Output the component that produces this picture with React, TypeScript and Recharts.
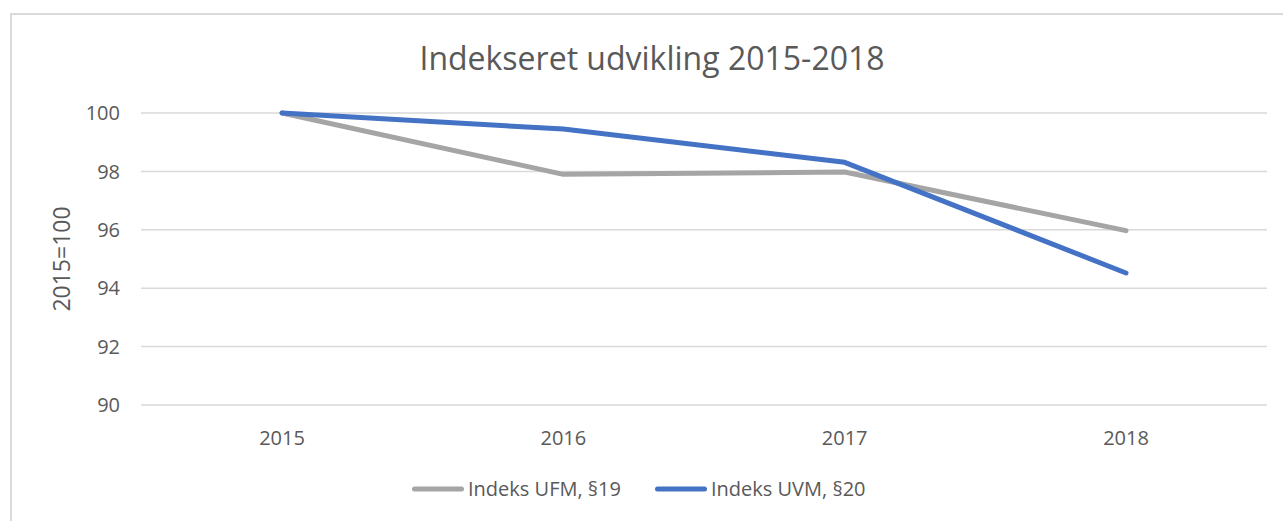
import React from "react";
import { LineChart, Line, XAxis, YAxis, CartesianGrid, Legend } from "recharts";

const years = ["2015", "2016", "2017", "2018"];
const ufm = [100, 97.9, 97.98, 95.97];
const uvm = [100, 99.45, 98.31, 94.52];
const yTicks = [90, 92, 94, 96, 98, 100];

const data = years.map((year, i) => ({ year, ufm: ufm[i], uvm: uvm[i] }));

const FONT = "'Open Sans', sans-serif";
const TEXT = "#595959";

function LegendContent({ payload }: any) {
  return (
    <div style={{ display: "flex", alignItems: "center", marginLeft: 412, fontFamily: FONT, fontSize: 20, lineHeight: "20px", color: TEXT }}>
      {(payload || []).map((p: any, i: number) => (
        <div key={p.value} style={{ display: "flex", alignItems: "center", marginRight: i === 0 ? 34 : 0 }}>
          <svg width={52} height={20} style={{ marginRight: 4 }}>
            <line x1={2.5} y1={10} x2={49.5} y2={10} stroke={p.color} strokeWidth={5} strokeLinecap="round" />
          </svg>
          <span style={{ whiteSpace: "nowrap" }}>{p.value}</span>
        </div>
      ))}
    </div>
  );
}

function YLabel({ viewBox }: any) {
  const x = viewBox.x - 11;
  const y = viewBox.y + viewBox.height / 2;
  return (
    <text x={x} y={y} transform={`rotate(-90, ${x}, ${y})`} textAnchor="middle" fill={TEXT} fontFamily={FONT} fontSize={23}>
      2015=100
    </text>
  );
}

export default function App() {
  return (
    <div style={{ position: "absolute", left: 0, top: 0, width: 1283, height: 521, overflow: "hidden", background: "#fff" }}>
      <div style={{ position: "absolute", left: 10, top: 13, width: 1300, height: 600, border: "2px solid #d9d9d9", boxSizing: "border-box" }} />
      <div style={{ position: "absolute", left: 0, top: 42, width: 1304, textAlign: "center", fontFamily: FONT, fontSize: 32, lineHeight: "32px", color: TEXT }}>
        Indekseret udvikling 2015-2018
      </div>
      <LineChart width={1283} height={521} data={data} margin={{ top: 113, right: 16, bottom: 56, left: 81 }} style={{ position: "absolute", left: 0, top: 0 }}>
        <CartesianGrid vertical={false} stroke="#d9d9d9" strokeWidth={1.5} />
        <XAxis
          dataKey="year"
          axisLine={false}
          tickLine={false}
          tickSize={0}
          tickMargin={26}
          height={60}
          padding={{ left: 141, right: 141 }}
          tick={{ fill: TEXT, fontSize: 20, fontFamily: FONT }}
        />
        <YAxis
          domain={[90, 100]}
          ticks={yTicks}
          axisLine={false}
          tickLine={false}
          tickSize={0}
          tickMargin={21}
          width={60}
          tick={{ fill: TEXT, fontSize: 20, fontFamily: FONT }}
          label={{ content: (props: any) => <YLabel viewBox={{ x: 81, y: 113, height: 292 }} /> }}
        />
        <Legend
          layout="horizontal"
          verticalAlign="middle"
          align="center"
          wrapperStyle={{ left: 0, top: 479, width: 1283 }}
          content={<LegendContent />}
        />
        <Line type="linear" dataKey="ufm" name="Indeks UFM, §19" stroke="#a5a5a5" strokeWidth={5} strokeLinecap="round" strokeLinejoin="round" dot={false} activeDot={false} isAnimationActive={false} />
        <Line type="linear" dataKey="uvm" name="Indeks UVM, §20" stroke="#4472c4" strokeWidth={5} strokeLinecap="round" strokeLinejoin="round" dot={false} activeDot={false} isAnimationActive={false} />
      </LineChart>
    </div>
  );
}
